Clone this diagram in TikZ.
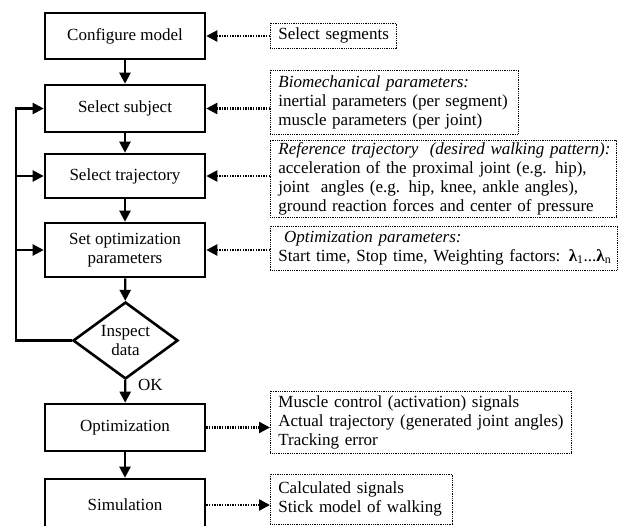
\documentclass[tikz,border=0pt]{standalone}
\usepackage{fontspec}
\setmainfont{Liberation Serif}
\usetikzlibrary{arrows.meta,shapes.geometric}
\begin{document}
\begin{tikzpicture}[x=1pt,y=-1pt,
  font=\fontsize{17}{19}\selectfont,
  proc/.style={draw, line width=2.6pt, minimum width=160pt, align=center, inner sep=0pt},
  info/.style={draw, line width=0.8pt, dash pattern=on 1pt off 0.8pt, align=left, anchor=west, inner xsep=8pt, inner ysep=0pt},
  conn/.style={line width=2.2pt, -{Triangle[length=11pt,width=11pt]}},
  plain/.style={line width=2.2pt},
  darrow/.style={line width=2.4pt, dash pattern=on 1.4pt off 1.2pt, -{Triangle[length=11pt,width=11pt]}}
]
\useasboundingbox (0,0) rectangle (618,525);
% process boxes
\node[proc, minimum height=46pt] (cfg) at (125,36) {Configure model};
\node[proc, minimum height=47pt] (sub) at (125,108.5) {Select subject};
\node[proc, minimum height=44pt] (traj) at (125,176) {Select trajectory};
\node[proc, minimum height=54pt] (sopt) at (125,250) {Set optimization\\parameters};
\node[draw, line width=2.6pt, shape=diamond, aspect=1.36, minimum width=105pt, minimum height=77pt, inner sep=0pt, align=center] (insp) at (125.5,340.5) {Inspect\\data};
\node[proc, minimum height=47pt] (optm) at (125,427.5) {Optimization};
\node[proc, minimum height=52pt] (sim) at (125,505) {Simulation};
% info boxes
\node[info, text width=110pt, minimum height=25pt, inner xsep=8pt] (seg) at (270,35.5) {\mbox{Select segments}};
\node[info, text width=232pt, minimum height=64pt] (bio) at (270,102) {\mbox{\textit{Biomechanical parameters:}}\\\mbox{inertial parameters (per segment)}\\\mbox{muscle parameters (per joint)}};
\node[info, text width=330pt, minimum height=77pt] (ref) at (270,178.5) {\mbox{\textit{Reference trajectory\ \ (desired walking pattern):}}\\\mbox{acceleration of the proximal joint (e.g. hip),}\\\mbox{joint\ \ angles (e.g. hip, knee, ankle angles),}\\\mbox{ground reaction forces and center of pressure}};
\node[info, text width=331pt, minimum height=44pt] (opar) at (270,248) {\mbox{\ \textit{Optimization parameters:}}\\\mbox{Start time, Stop time, Weighting factors: \textbf{λ}\textsubscript{1}...\textbf{λ}\textsubscript{n}}};
\node[info, text width=285pt, minimum height=62pt] (mus) at (270,422) {\mbox{Muscle control (activation) signals}\\\mbox{Actual trajectory (generated joint angles)}\\\mbox{Tracking error}};
\node[info, text width=166pt, minimum height=50pt] (calc) at (270,499) {\mbox{Calculated signals}\\\mbox{Stick model of walking}};
% main flow
\draw[conn] (cfg) -- (sub);
\draw[conn] (sub) -- (traj);
\draw[conn] (traj) -- (sopt);
\draw[conn] (sopt) -- (insp);
\draw[conn] (insp) -- (optm);
\draw[conn] (optm) -- (sim);
\node[anchor=west, inner sep=0pt] (ok) at (138,385) {OK};
% loop back
\coordinate (lx) at (16,340.5);
\draw[plain, line join=miter] (insp.west) -- (lx) -- (lx |- sub.west);
\draw[conn] ([xshift=-1.1pt]lx |- sub.west) -- (sub.west);
\draw[conn] (lx |- traj.west) -- (traj.west);
\draw[conn] (lx |- sopt.west) -- (sopt.west);
% dotted connectors
\draw[darrow] (seg.west |- cfg.east) -- (cfg.east);
\draw[darrow] (bio.west |- sub.east) -- (sub.east);
\draw[darrow] (ref.west |- traj.east) -- (traj.east);
\draw[darrow] (opar.west |- sopt.east) -- (sopt.east);
\draw[darrow] (optm.east) -- (mus.west |- optm.east);
\draw[darrow] (sim.east) -- (calc.west |- sim.east);
\end{tikzpicture}
\end{document}
